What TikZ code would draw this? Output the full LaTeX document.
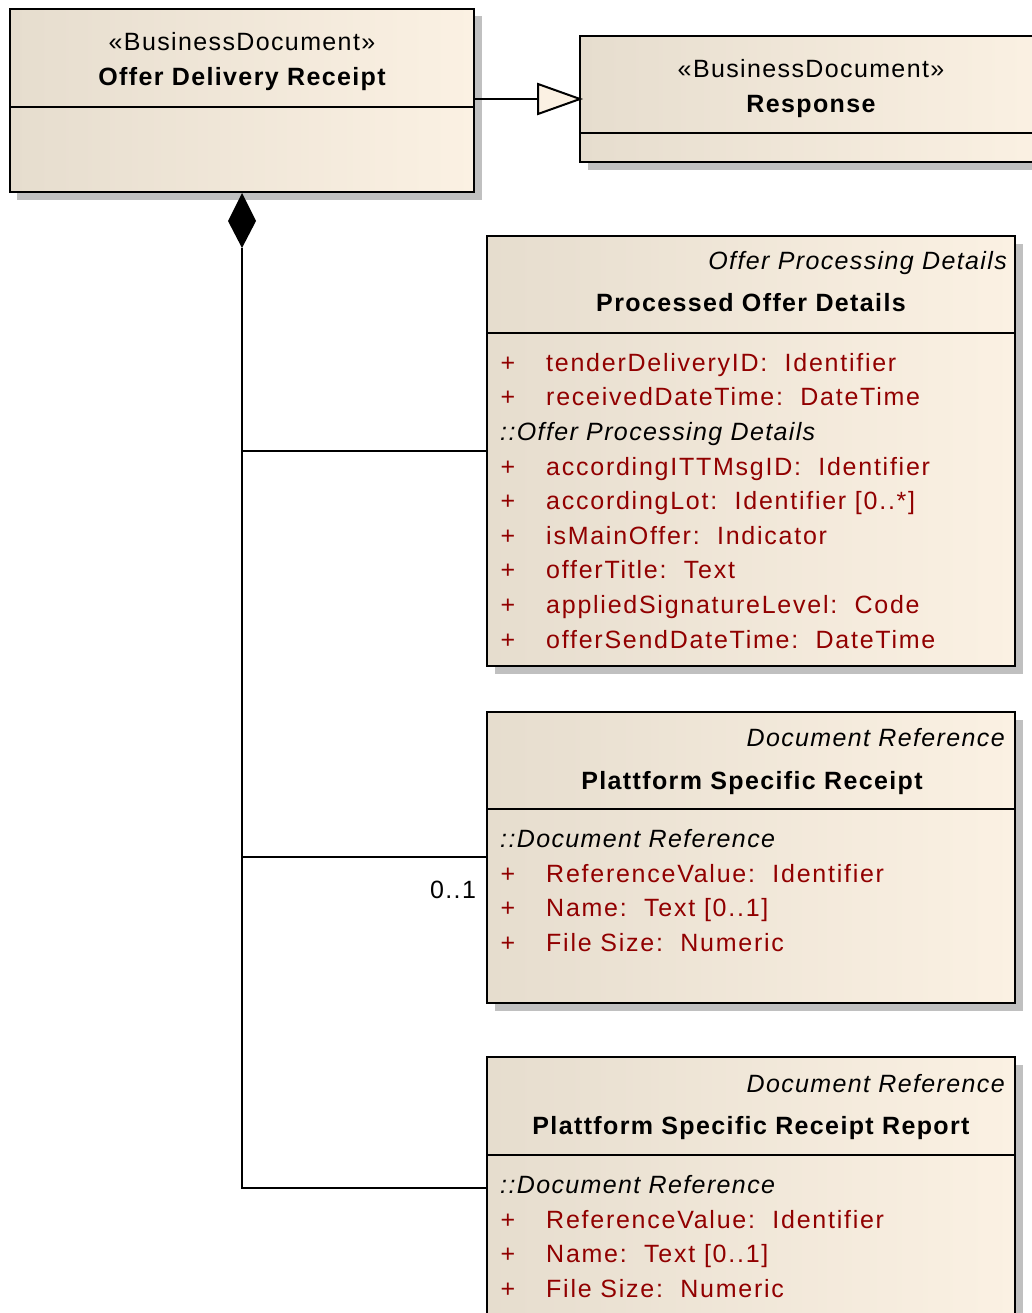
\documentclass[tikz,border=0pt]{standalone}
\usepackage{fontspec}
\setmainfont[LetterSpace=5.5]{Liberation Sans}
\newfontfamily\attrfont[LetterSpace=7]{Liberation Sans}
\definecolor{boxL}{RGB}{230,221,206}
\definecolor{boxR}{RGB}{251,241,227}
\definecolor{shadowgray}{RGB}{192,192,192}
\definecolor{attrred}{RGB}{145,0,0}
\begin{document}
\begin{tikzpicture}[x=1pt,y=-1pt,
  umlbox/.style={draw=black, line width=2.7pt, left color=boxL, right color=boxR, anchor=north west, inner sep=0pt, outer sep=0pt},
  divider/.style={line width=2.2pt},
  conn/.style={line width=2pt},
  txt/.style={font=\fontsize{25}{30}\selectfont, inner sep=0pt, anchor=base},
  title/.style={txt, font=\fontsize{25}{30}\selectfont\bfseries},
  stype/.style={txt, font=\fontsize{25}{30}\selectfont\itshape, anchor=base east},
  grp/.style={txt, font=\fontsize{25}{30}\selectfont\itshape, anchor=base west},
  plus/.style={txt, text=attrred},
  attr/.style={txt, font=\fontsize{25}{30}\attrfont, text=attrred, anchor=base west}]
\clip (0,0) rectangle (1032,1313);
\fill[white] (0,0) rectangle (1032,1313);
% shadows
\fill[shadowgray] (17,16) rectangle (482,200);
\fill[shadowgray] (588,43) rectangle (1050,170);
\fill[shadowgray] (495,244) rectangle (1023,674);
\fill[shadowgray] (495,720) rectangle (1023,1011);
\fill[shadowgray] (495,1065) rectangle (1023,1330);
% boxes
\node[umlbox, minimum width=464pt, minimum height=183pt] (odr) at (10,9) {};
\draw[divider] (10,107) -- (474,107);
\node[txt] (odrS) at (242,51) {«BusinessDocument»};
\node[title] (odrN) at (242,86) {Offer Delivery Receipt};

\node[umlbox, minimum width=470pt, minimum height=126pt] (resp) at (580,36) {};
\draw[divider] (580,133) -- (1050,133);
\node[txt] (respS) at (811,78) {«BusinessDocument»};
\node[title] (respN) at (811,113) {Response};

\node[umlbox, minimum width=528pt, minimum height=430pt] (pod) at (487,236) {};
\draw[divider] (487,333) -- (1015,333);
\node[stype] (podS) at (1007,270) {Offer Processing Details};
\node[title] (podN) at (751,312) {Processed Offer Details};
\node[plus] (podP1) at (508,371) {+}; \node[attr] (podA1) at (546,371) {tenderDeliveryID:\ \ Identifier};
\node[plus] (podP2) at (508,405) {+}; \node[attr] (podA2) at (546,405) {receivedDateTime:\ \ DateTime};
\node[grp] (podG) at (500,440) {::Offer Processing Details};
\node[plus] (podP3) at (508,475) {+}; \node[attr] (podA3) at (546,475) {accordingITTMsgID:\ \ Identifier};
\node[plus] (podP4) at (508,509) {+}; \node[attr] (podA4) at (546,509) {accordingLot:\ \ Identifier [0..*]};
\node[plus] (podP5) at (508,544) {+}; \node[attr] (podA5) at (546,544) {isMainOffer:\ \ Indicator};
\node[plus] (podP6) at (508,578) {+}; \node[attr] (podA6) at (546,578) {offerTitle:\ \ Text};
\node[plus] (podP7) at (508,613) {+}; \node[attr] (podA7) at (546,613) {appliedSignatureLevel:\ \ Code};
\node[plus] (podP8) at (508,648) {+}; \node[attr] (podA8) at (546,648) {offerSendDateTime:\ \ DateTime};

\node[umlbox, minimum width=528pt, minimum height=291pt] (psr) at (487,712) {};
\draw[divider] (487,809) -- (1015,809);
\node[stype] (psrS) at (1005,746) {Document Reference};
\node[title] (psrN) at (752,789) {Plattform Specific Receipt};
\node[grp] (psrG) at (500,847) {::Document Reference};
\node[plus] (psrP1) at (508,882) {+}; \node[attr] (psrA1) at (546,882) {ReferenceValue:\ \ Identifier};
\node[plus] (psrP2) at (508,916) {+}; \node[attr] (psrA2) at (546,916) {Name:\ \ Text [0..1]};
\node[plus] (psrP3) at (508,951) {+}; \node[attr] (psrA3) at (546,951) {File Size:\ \ Numeric};

\node[umlbox, minimum width=528pt, minimum height=280pt] (psrr) at (487,1057) {};
\draw[divider] (487,1155) -- (1015,1155);
\node[stype] (psrrS) at (1005,1092) {Document Reference};
\node[title] (psrrN) at (751,1134) {Plattform Specific Receipt Report};
\node[grp] (psrrG) at (500,1193) {::Document Reference};
\node[plus] (psrrP1) at (508,1228) {+}; \node[attr] (psrrA1) at (546,1228) {ReferenceValue:\ \ Identifier};
\node[plus] (psrrP2) at (508,1262) {+}; \node[attr] (psrrA2) at (546,1262) {Name:\ \ Text [0..1]};
\node[plus] (psrrP3) at (508,1297) {+}; \node[attr] (psrrA3) at (546,1297) {File Size:\ \ Numeric};

% generalization
\coordinate (gs) at (474,99);
\coordinate (gb) at (538,99);
\coordinate (gt) at (580,99);
\draw[conn] (gs) -- (gb);
\draw[conn, fill=boxR, line join=miter] (538,84) -- (gt) -- (538,114) -- cycle;

% composition
\coordinate (dtop) at (242,193);
\coordinate (dbot) at (242,248);
\fill[black] (dtop) -- (256,221) -- (dbot) -- (228,221) -- cycle;
\coordinate (j3) at (487,451);
\coordinate (j4) at (487,857);
\coordinate (j5) at (487,1188);
\draw[conn] (dbot) |- (j3);
\draw[conn] (dbot) |- (j4);
\draw[conn] (dbot) |- (j5);
\node[txt] (mult) at (453,898) {0..1};
\end{tikzpicture}
\end{document}
